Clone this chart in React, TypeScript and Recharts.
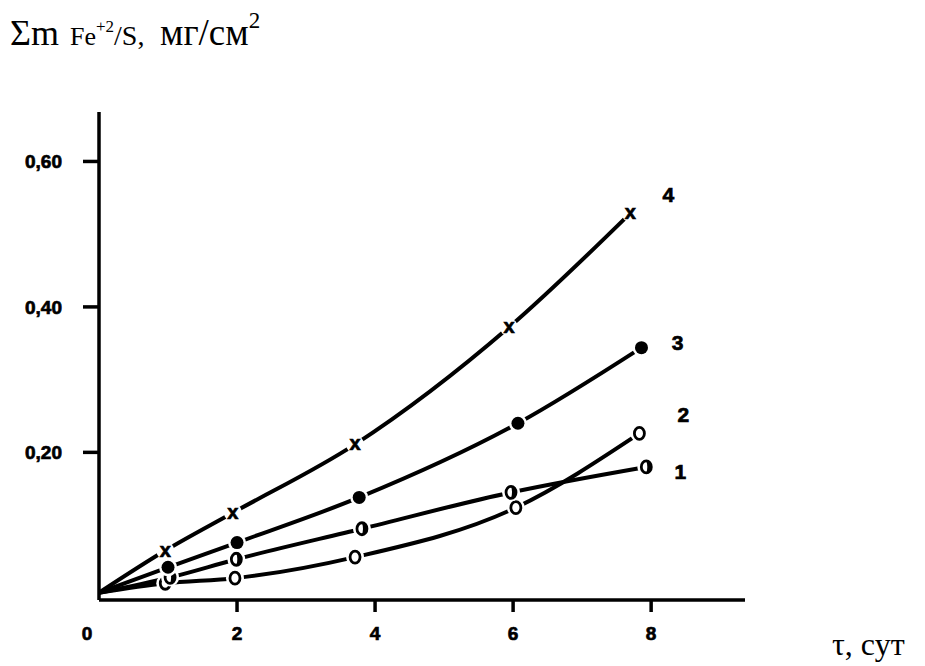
import React from "react";
import { LineChart, Line, XAxis, YAxis } from "recharts";

// curve 4 (x markers)
const days4 = [0, 0.96, 1.94, 3.71, 5.94, 7.7];
const mass4 = [0.007, 0.065, 0.117, 0.211, 0.372, 0.529];
// curve 3 (filled dots)
const days3 = [0, 1.0, 2.0, 3.77, 6.07, 7.86];
const mass3 = [0.007, 0.042, 0.076, 0.138, 0.24, 0.344];
// curve 2 (open circles)
const days2 = [0, 0.96, 1.97, 3.71, 6.04, 7.83];
const mass2 = [0.007, 0.02, 0.027, 0.056, 0.124, 0.226];
// curve 1 (half-filled circles)
const days1 = [0, 1.03, 1.99, 3.81, 5.97, 7.93];
const mass1 = [0.007, 0.028, 0.053, 0.095, 0.145, 0.18];

const xTicks = [0, 2, 4, 6, 8];
const yTicks = [0.2, 0.4, 0.6];
const yTickLabels = ["0,20", "0,40", "0,60"];

const toRows = (xs: number[], ys: number[]) => xs.map((x, i) => ({ x, y: ys[i] }));

const SANS = "Liberation Sans, Arial, sans-serif";
const SERIF = "Liberation Serif, Times New Roman, serif";

// heavy bold look, like the scanned original
const bold = { fontWeight: "bold", fontFamily: SANS, fill: "#000", stroke: "#000", strokeWidth: 0.7 } as any;

const renderDot = (kind: string) => (p: any) => {
    const { cx, cy, index } = p;
    if (index === 0) return <g key={`d${index}`} />;
    let mark: any = null;
    if (kind === "cross") {
        mark = (
            <text x={cx} y={cy + 6} textAnchor="middle" fontSize={20} {...bold}>
                x
            </text>
        );
    } else if (kind === "filled") {
        mark = <circle cx={cx} cy={cy} r={6.5} fill="#000" />;
    } else if (kind === "open") {
        mark = <ellipse cx={cx} cy={cy} rx={5} ry={6} fill="#fff" stroke="#000" strokeWidth={2.8} />;
    } else {
        mark = (
            <g>
                <ellipse cx={cx} cy={cy} rx={5} ry={6} fill="#fff" stroke="#000" strokeWidth={2.8} />
                <path d={`M ${cx} ${cy - 6} A 5 6 0 0 1 ${cx} ${cy + 6} Q ${cx + 2} ${cy} ${cx} ${cy - 6} Z`} fill="#000" />
            </g>
        );
    }
    return (
        <g key={`d${index}`}>
            <circle cx={cx} cy={cy} r={9} fill="#fff" />
            {mark}
        </g>
    );
};

const endLabel = (text: string, last: number, dx: number, dy: number) => (p: any) => {
    if (p.index !== last) return <g key={`l${p.index}`} />;
    return (
        <text key={`l${p.index}`} x={p.x + dx} y={p.y + dy} textAnchor="middle" fontSize={21} {...bold}>
            {text}
        </text>
    );
};

const YTick = (p: any) => {
    const { x, y, payload } = p;
    const i = yTicks.indexOf(payload.value);
    return (
        <g>
            <line x1={x - 16} x2={x} y1={y} y2={y} stroke="#000" strokeWidth={3.5} />
            <text x={x - 37} y={y + 7} textAnchor="end" fontSize={19} {...bold}>
                {yTickLabels[i]}
            </text>
        </g>
    );
};

const XTick = (p: any) => {
    const { x, y, payload } = p;
    const zero = payload.value === 0;
    return (
        <g>
            {!zero && <line x1={x} x2={x} y1={y} y2={y + 12} stroke="#000" strokeWidth={3.5} />}
            <text x={zero ? x - 12 : x} y={y + 40} textAnchor="middle" fontSize={19} {...bold}>
                {payload.value}
            </text>
        </g>
    );
};

export default function App() {
    return (
        <div style={{ position: "absolute", left: 0, top: 0, width: 925, height: 666, background: "#fff" }}>
            <LineChart width={925} height={666} margin={{ top: 112, right: 180, bottom: 0, left: 0 }}>
                <XAxis
                    type="number"
                    dataKey="x"
                    domain={[0, 9.36]}
                    ticks={xTicks}
                    height={66}
                    tickSize={0}
                    tickMargin={0}
                    tickLine={false}
                    axisLine={{ stroke: "#000", strokeWidth: 3.5 }}
                    tick={<XTick />}
                    allowDataOverflow
                />
                <YAxis
                    type="number"
                    dataKey="y"
                    domain={[-0.003, 0.668]}
                    ticks={yTicks}
                    width={99}
                    tickSize={0}
                    tickMargin={0}
                    tickLine={false}
                    axisLine={{ stroke: "#000", strokeWidth: 3.5 }}
                    tick={<YTick />}
                    allowDataOverflow
                />
                <Line data={toRows(days2, mass2)} dataKey="y" type="monotone" stroke="#000" strokeWidth={4}
                    dot={renderDot("open")} label={endLabel("2", 5, 44, -11)} isAnimationActive={false} />
                <Line data={toRows(days1, mass1)} dataKey="y" type="monotone" stroke="#000" strokeWidth={4}
                    dot={renderDot("half")} label={endLabel("1", 5, 34, 12)} isAnimationActive={false} />
                <Line data={toRows(days3, mass3)} dataKey="y" type="monotone" stroke="#000" strokeWidth={4}
                    dot={renderDot("filled")} label={endLabel("3", 5, 36, 2)} isAnimationActive={false} />
                <Line data={toRows(days4, mass4)} dataKey="y" type="monotone" stroke="#000" strokeWidth={4}
                    dot={renderDot("cross")} label={endLabel("4", 5, 38, -11)} isAnimationActive={false} />
            </LineChart>
            <svg width={925} height={666} style={{ position: "absolute", left: 0, top: 0, pointerEvents: "none" }}>
                <text x={10} y={45} fontFamily={SERIF} fontSize={36} fill="#000">
                    <tspan>Σm</tspan>
                    <tspan x={70} fontSize={26}>Fe</tspan>
                    <tspan fontSize={17} dy={-13}>+2</tspan>
                    <tspan fontSize={28} dy={13}>/S,</tspan>
                    <tspan x={160} fontSize={37}>мг/см</tspan>
                    <tspan fontSize={23} dy={-17}>2</tspan>
                </text>
                <text x={832} y={655} fontFamily={SERIF} fontSize={32} fill="#000">τ, сут</text>
            </svg>
        </div>
    );
}
